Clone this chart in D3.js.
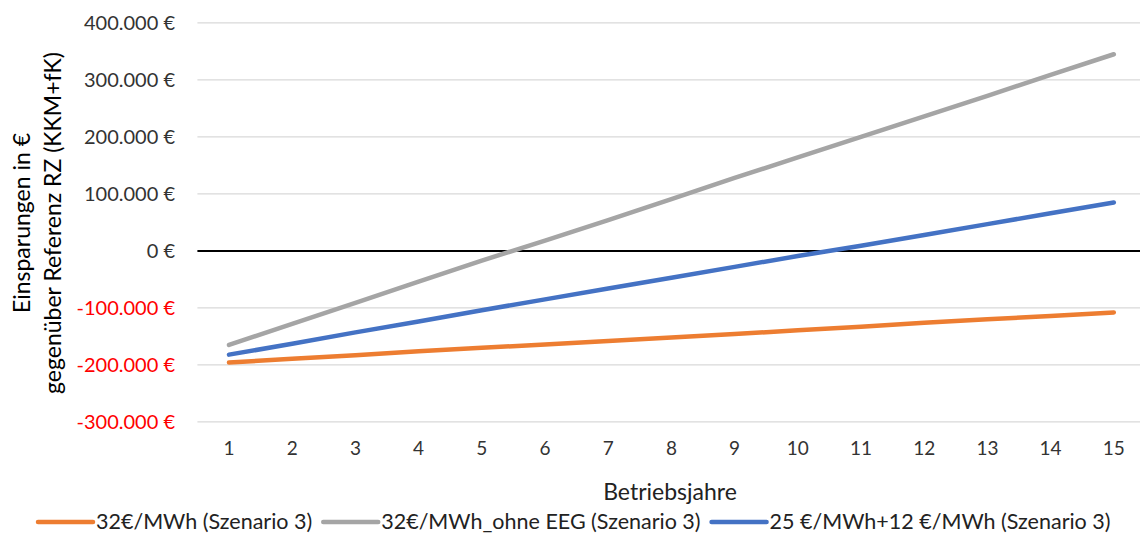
<!DOCTYPE html>
<html>
<head>
<meta charset="utf-8">
<script src="https://cdn.jsdelivr.net/npm/d3@7"></script>
<style>
  html, body { margin: 0; padding: 0; background: #fff; }
  svg { display: block; font-family: Lato, "Open Sans", sans-serif; }
</style>
</head>
<body>
<svg id="chart" width="1140" height="535"></svg>
<script>
// Betriebsjahre 1..15
const years = [1, 2, 3, 4, 5, 6, 7, 8, 9, 10, 11, 12, 13, 14, 15];

// Kumulierte Einsparungen in € je Szenario
const seriesNames = [
  "32€/MWh (Szenario 3)",
  "32€/MWh_ohne EEG (Szenario 3)",
  "25 €/MWh+12 €/MWh (Szenario 3)"
];
const values32 = [-196000, -189000, -183000, -176000, -170000, -164000, -158000, -152000, -146000, -139000, -133000, -126000, -120000, -114000, -108000];
const values32OhneEEG = [-165000, -128000, -91000, -54000, -17000, 18000, 54000, 91000, 128000, 164000, 200000, 236000, 272000, 309000, 345000];
const values25plus12 = [-182000, -163000, -143000, -124000, -104000, -85000, -66000, -47000, -28000, -9000, 9000, 28000, 47000, 66000, 85000];

const yTicks = [-300000, -200000, -100000, 0, 100000, 200000, 300000, 400000];
const colors = ["#ED7D31", "#A5A5A5", "#4472C4"];

const xTitle = "Betriebsjahre";
const yTitleLines = ["Einsparungen in €", "gegenüber Referenz RZ (KKM+fK)"];

const series = [values32, values32OhneEEG, values25plus12];

const svg = d3.select("#chart");
const W = 1140;

const plotLeft = 197.4, plotRight = 1145.4;
const x = d3.scaleBand().domain(years).range([plotLeft, plotRight]);
const xc = d => x(d) + x.bandwidth() / 2;
const y = d3.scaleLinear().domain([-300000, 400000]).range([421.9, 22.9]);

const de = d3.formatLocale({ decimal: ",", thousands: ".", grouping: [3], currency: ["", " €"] });
const fmt = v => de.format(",.0f")(v).replace("−", "-") + " €";

// horizontal gridlines
svg.append("g")
  .selectAll("line")
  .data(yTicks.filter(t => t !== 0))
  .join("line")
  .attr("x1", plotLeft).attr("x2", W)
  .attr("y1", d => y(d)).attr("y2", d => y(d))
  .attr("stroke", "#d9d9d9").attr("stroke-width", 1.3);

// zero line
svg.append("line")
  .attr("x1", plotLeft).attr("x2", W)
  .attr("y1", y(0)).attr("y2", y(0))
  .attr("stroke", "#000").attr("stroke-width", 2);

// y axis labels
const yAxis = d3.axisLeft(y).tickValues(yTicks).tickFormat(fmt).tickSize(0).tickPadding(0);
const gy = svg.append("g").attr("transform", "translate(175,0)").call(yAxis);
gy.select(".domain").remove();
gy.selectAll("text")
  .attr("font-size", 20)
  .attr("font-family", "Lato, sans-serif")
  .attr("fill", d => d < 0 ? "#FF0000" : "#333333");

// x axis labels
const xAxis = d3.axisBottom(x).tickSize(0).tickPadding(0);
const gx = svg.append("g").attr("transform", "translate(0,441)").call(xAxis);
gx.select(".domain").remove();
gx.selectAll("text")
  .attr("font-size", 19)
  .attr("font-family", "Lato, sans-serif")
  .attr("fill", "#333333");

// series lines
const line = d3.line().x((d, i) => xc(years[i])).y(d => y(d));
svg.append("g")
  .selectAll("path")
  .data(series)
  .join("path")
  .attr("d", d => line(d))
  .attr("fill", "none")
  .attr("stroke", (d, i) => colors[i])
  .attr("stroke-width", 4.5)
  .attr("stroke-linecap", "round")
  .attr("stroke-linejoin", "round");

// x title
svg.append("text")
  .attr("x", 670).attr("y", 500)
  .attr("text-anchor", "middle")
  .attr("font-size", 23)
  .attr("fill", "#222222")
  .text(xTitle);

// y title (two lines, rotated)
const yt = svg.append("text")
  .attr("transform", "translate(0,223) rotate(-90)")
  .attr("text-anchor", "middle")
  .attr("font-size", 23)
  .attr("fill", "#000");
yt.append("tspan").attr("x", 0).attr("y", 30).text(yTitleLines[0]);
yt.append("tspan").attr("x", 0).attr("y", 61).text(yTitleLines[1]);

// legend
const leg = svg.append("g").attr("transform", "translate(38,522)");
const legendWidths = [];
let lx = 0;
seriesNames.forEach((name, i) => {
  const g = leg.append("g").attr("transform", `translate(${lx},0)`);
  g.append("line")
    .attr("x1", 0).attr("x2", 55).attr("y1", 0).attr("y2", 0)
    .attr("stroke", colors[i]).attr("stroke-width", 4.5).attr("stroke-linecap", "round");
  const t = g.append("text")
    .attr("x", 58).attr("y", 7)
    .attr("font-size", 21.5)
    .attr("fill", "#222222")
    .text(name);
  lx += 58 + t.node().getComputedTextLength() + 11;
});
</script>
</body>
</html>
